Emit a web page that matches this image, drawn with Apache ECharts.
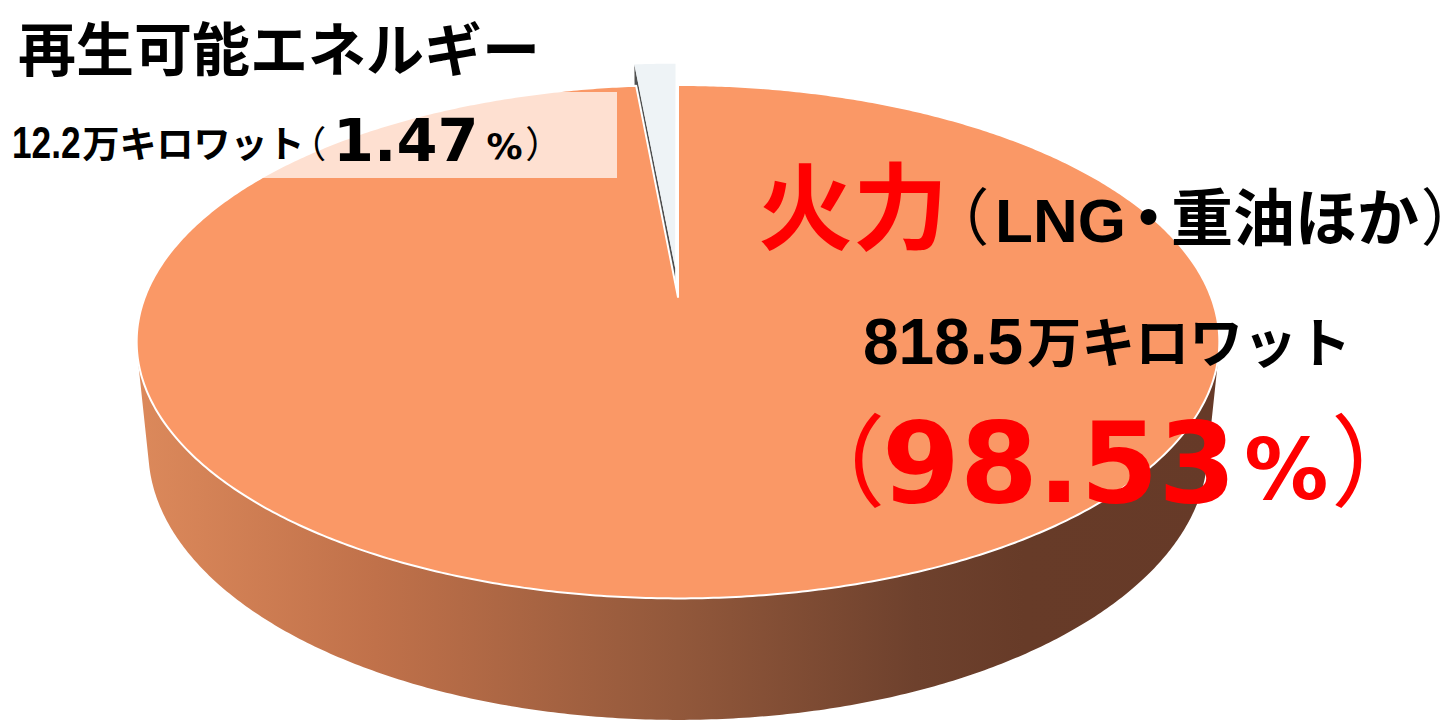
<!DOCTYPE html>
<html>
<head>
<meta charset="utf-8">
<script src="https://cdn.jsdelivr.net/npm/echarts@6/dist/echarts.min.js"></script>
<style>
html, body { margin: 0; padding: 0; background: #ffffff; }
#main { width: 1454px; height: 722px; }
#main text[style*="PaltP"] { font-feature-settings: "palt" 1; }
</style>
</head>
<body>
<div id="main"></div>
<script>
// ---- data ----
const categories = ['火力', '再生可能エネルギー'];
const values = [818.5, 12.2];               // 万キロワット
const unitText = '万キロワット';
const fireNote = ['（', 'LNG', '・', '重油ほか', '）'];
const explodeRatio = [0, 0.12];

// ---- styles ----
const topColors = ['#FA9866', '#EEF3F6'];
const topStroke = ['#FFFFFF', null];
const radialColors = ['#7a4a33', '#505050'];
const sideFill = [
  { type: 'linear', x: 0, y: 0, x2: 1, y2: 0, colorStops: [
    { offset: 0, color: '#DC895B' }, { offset: 0.22, color: '#C0714A' },
    { offset: 0.5, color: '#92583B' }, { offset: 0.72, color: '#6E412D' },
    { offset: 0.82, color: '#673B28' }, { offset: 1, color: '#663A28' } ] },
  '#8a8f93'
];

// ---- perspective camera ----
const CAM = { cx: 678, cy: 297, f: 2708, d: 5.08, phi: Math.asin(0.467), t: 0.232 };
function proj(x, y, z) {
  const s = Math.sin(CAM.phi), c = Math.cos(CAM.phi);
  const Yc = y * s + z * c;
  const Zc = y * c + CAM.d - z * s;
  return [CAM.cx + CAM.f * x / Zc, CAM.cy - CAM.f * Yc / Zc];
}

const total = values.reduce((a, b) => a + b, 0);
const percents = values.map(v => (v / total * 100).toFixed(2));
let startAngle = 90;
const pieData = values.map((v, i) => {
  const hi = startAngle;
  const lo = startAngle - v / total * 360;
  startAngle = lo;
  return { name: categories[i], value: [v, lo, hi, explodeRatio[i]] };
});

const rad = a => a * Math.PI / 180;

function renderItem(params, api) {
  const i = params.dataIndex;
  const lo = api.value(1), hi = api.value(2), e = api.value(3);
  const mid = rad((lo + hi) / 2);
  const ox = e * Math.cos(mid), oy = e * Math.sin(mid);
  const t = CAM.t;
  const pt = (a, z) => proj(ox + Math.cos(rad(a)), oy + Math.sin(rad(a)), z);
  const arc = (a0, a1, z) => {
    const n = Math.max(2, Math.ceil(Math.abs(a1 - a0) / 0.5));
    const r = [];
    for (let k = 0; k <= n; k++) r.push(pt(a0 + (a1 - a0) * k / n, z));
    return r;
  };
  const camX = 0, camY = -CAM.d * Math.cos(CAM.phi);
  const base = i === 0 ? 10 : 0;
  const children = [];
  const runs = []; let run = null;
  for (let a = lo; a <= hi + 1e-9; a += 0.25) {
    const vis = (camX - ox) * Math.cos(rad(a)) + (camY - oy) * Math.sin(rad(a)) > 1;
    if (vis) { if (!run) { run = [a, a]; runs.push(run); } else run[1] = a; }
    else run = null;
  }
  runs.forEach(([a0, a1]) => {
    if (a1 - a0 < 0.01) return;
    const top = arc(a0, a1, 0);
    const bot = arc(a0, a1, -t).reverse();
    children.push({ type: 'polygon', shape: { points: top.concat(bot) },
      style: { fill: sideFill[i] }, z2: base + 1 });
  });
  [[hi, hi + 90], [lo, lo - 90]].forEach(([a, na]) => {
    const dot = (camX - ox) * Math.cos(rad(na)) + (camY - oy) * Math.sin(rad(na));
    if (dot > 0.05) {
      const pts = [proj(ox, oy, 0), pt(a, 0), pt(a, -t), proj(ox, oy, -t)];
      children.push({ type: 'polygon', shape: { points: pts },
        style: { fill: radialColors[i] }, z2: base + 1 });
    }
  });
  const topPts = [proj(ox, oy, 0)].concat(arc(lo, hi, 0));
  children.push({ type: 'polygon', shape: { points: topPts },
    style: { fill: topColors[i], stroke: topStroke[i], lineWidth: topStroke[i] ? 2 : 0, lineJoin: 'round' },
    z2: base + 2 });
  return { type: 'group', children };
}

// ---- text layout helpers ----
const JP = '"Noto Sans CJK JP", sans-serif';
const JP_PALT = '"PaltP", "Noto Sans CJK JP", sans-serif';
const ARIAL = '"Liberation Sans", Arial, sans-serif';
const HEAVY = '"DejaVu Sans", Verdana, sans-serif';

const mctx = document.createElement('canvas').getContext('2d');
function fontStr(p) { return `${p.weight || 'bold'} ${p.size}px ${p.palt ? JP_PALT : p.family}`; }
function measure(font, text) { mctx.font = font; mctx.textBaseline = 'alphabetic'; return mctx.measureText(text).width; }
const probe = document.createElement('span');
probe.style.cssText = 'position:absolute;left:-9999px;top:0;white-space:nowrap;visibility:hidden;font-feature-settings:"palt" 1;';
document.body.appendChild(probe);
function measurePalt(font, text) {
  probe.style.font = font;
  probe.style.fontFeatureSettings = '"palt" 1';
  probe.textContent = text;
  return probe.getBoundingClientRect().width;
}
function midOffset(font) {
  mctx.font = font;
  mctx.textBaseline = 'alphabetic';
  const a = mctx.measureText('H').actualBoundingBoxAscent;
  mctx.textBaseline = 'middle';
  const b = mctx.measureText('H').actualBoundingBoxAscent;
  return a - b;
}
// one rich-text element per line; tokens share a common baseline
function richLine(x, baseY, pieces, z) {
  let text = '';
  const rich = {};
  pieces.forEach((p, k) => {
    const font = fontStr(p);
    const h = 2 * midOffset(font);
    let pr = p.gap || 0;
    if (p.palt) pr += measurePalt(font, p.text) - measure(font, p.text);
    rich['p' + k] = { font: font, fill: p.color || '#000000', verticalAlign: 'bottom',
      height: h, lineHeight: h, padding: [0, pr, 0, 0] };
    text += '{p' + k + '|' + p.text + '}';
  });
  return { type: 'text', x: x, y: baseY, z: z || 100,
    style: { text: text, rich: rich, textAlign: 'left', align: 'left',
      textVerticalAlign: 'bottom', verticalAlign: 'bottom' } };
}

const graphics = [];
// translucent label box over the pie
graphics.push({ type: 'rect', shape: { x: 0, y: 92, width: 617, height: 86 },
  style: { fill: 'rgba(255,255,255,0.7)' }, z: 50 });
// renewable title
graphics.push({ type: 'text', x: 18, y: 46, z: 100,
  style: { text: categories[1], font: `bold 58px ${JP}`, fill: '#000',
    textAlign: 'left', textVerticalAlign: 'middle', align: 'left', verticalAlign: 'middle' } });
// renewable value line: condensed number, then the rest
const numFont = `bold 44px ${ARIAL}`;
const numSx = 0.8;
const numW = measure(numFont, String(values[1])) * numSx;
graphics.push({ type: 'text', x: 12, y: 155 - midOffset(numFont), scaleX: numSx, z: 100,
  style: { text: String(values[1]), font: numFont, fill: '#000',
    textAlign: 'left', textVerticalAlign: 'middle', align: 'left', verticalAlign: 'middle' } });
graphics.push(richLine(12 + numW + 2, 156, [
  { text: unitText, size: 37, family: JP, gap: 2 },
  { text: '（', size: 37, weight: 'normal', palt: true, gap: 8 },
  { text: percents[1], size: 59, family: HEAVY, gap: 8 },
  { text: '%', size: 36, family: HEAVY, gap: 4 },
  { text: '）', size: 37, weight: 'normal', palt: true }
]));
// fire title + note
graphics.push(richLine(758, 238, [
  { text: categories[0], size: 95, family: JP, color: '#FF0000', gap: 8 },
  { text: fireNote[0], size: 62, weight: 'normal', palt: true, gap: 8 },
  { text: fireNote[1], size: 62, family: ARIAL, gap: 7 },
  { text: fireNote[2], size: 62, palt: true, gap: 7 },
  { text: fireNote[3], size: 62, family: JP, gap: 4 },
  { text: fireNote[4], size: 62, weight: 'normal', palt: true }
]));
// fire value line
graphics.push(richLine(863, 360, [
  { text: String(values[0]), size: 64, family: ARIAL, gap: 4 },
  { text: unitText, size: 54, family: JP }
]));
// fire percent line
graphics.push(richLine(832, 492, [
  { text: '（', size: 100, weight: 'normal', palt: true, color: '#FF0000' },
  { text: percents[0], size: 112, family: HEAVY, color: '#FF0000', gap: 8 },
  { text: '%', size: 84, family: HEAVY, color: '#FF0000', gap: 6 },
  { text: '）', size: 100, weight: 'normal', palt: true, color: '#FF0000' }
]));

const chart = echarts.init(document.getElementById('main'), null, { renderer: 'svg', width: 1454, height: 722 });
function applyPalt() {
  document.querySelectorAll('#main svg text').forEach(el => {
    const fam = getComputedStyle(el).fontFamily || '';
    const st = el.getAttribute('style') || '';
    if (fam.indexOf('PaltP') >= 0 || st.indexOf('PaltP') >= 0) el.style.fontFeatureSettings = '"palt" 1';
  });
}
chart.on('finished', applyPalt);
chart.setOption({
  animation: false,
  backgroundColor: '#ffffff',
  series: [{
    type: 'custom',
    coordinateSystem: 'none',
    silent: true,
    z: 2,
    data: pieData,
    renderItem: renderItem
  }],
  graphic: { elements: graphics }
});
applyPalt();
requestAnimationFrame(applyPalt);
setTimeout(applyPalt, 0);
</script>
</body>
</html>
